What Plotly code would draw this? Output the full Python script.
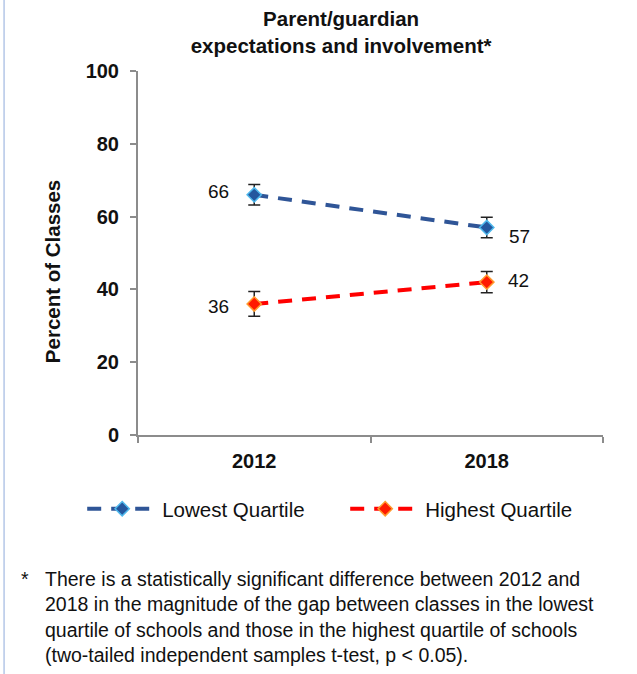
import plotly.graph_objects as go

# Survey years and the share of classes (percent) for each school quartile
years = ["2012", "2018"]
lowest_quartile = [66, 57]
highest_quartile = [36, 42]
lowest_err_plus = [2.8, 2.8]
lowest_err_minus = [2.8, 2.8]
highest_err_plus = [3.4, 2.9]
highest_err_minus = [3.4, 2.9]
y_ticks = [0, 20, 40, 60, 80, 100]

title_text = "Parent/guardian<br>expectations and involvement*"
y_title = "Percent of Classes"
footnote = ("There is a statistically significant difference between 2012 and<br>"
            "2018 in the magnitude of the gap between classes in the lowest<br>"
            "quartile of schools and those in the highest quartile of schools<br>"
            "(two-tailed independent samples t-test, p < 0.05).")

FONT = "Liberation Sans, Arial, sans-serif"
BLUE_LINE = "#2F5597"
RED_LINE = "#FF0000"
AXIS_GREY = "#8C8C8C"

fig = go.Figure()

fig.add_trace(go.Scatter(
    x=years, y=lowest_quartile, name="Lowest Quartile", mode="lines+markers",
    line=dict(color=BLUE_LINE, width=4, dash="14px,10px"),
    marker=dict(symbol="diamond", size=11, color="#24579E",
                line=dict(color="#4FB8EC", width=1.5)),
    error_y=dict(type="data", symmetric=False, array=lowest_err_plus,
                 arrayminus=lowest_err_minus, color="#222222", thickness=1.5, width=6),
))
fig.add_trace(go.Scatter(
    x=years, y=highest_quartile, name="Highest Quartile", mode="lines+markers",
    line=dict(color=RED_LINE, width=4, dash="14px,10px"),
    marker=dict(symbol="diamond", size=11, color="#FF1A00",
                line=dict(color="#FF9A2E", width=1.5)),
    error_y=dict(type="data", symmetric=False, array=highest_err_plus,
                 arrayminus=highest_err_minus, color="#222222", thickness=1.5, width=6),
))

# Value labels beside each point (category index used as the x position)
label_offsets = {
    ("Lowest", 0): (-36, 3), ("Lowest", 1): (33, -9),
    ("Highest", 0): (-36, -3), ("Highest", 1): (32, 2),
}
annotations = []
for key, series in (("Lowest", lowest_quartile), ("Highest", highest_quartile)):
    for i, val in enumerate(series):
        dx, dy = label_offsets[(key, i)]
        annotations.append(dict(
            x=i, y=val, xref="x", yref="y", text=str(val), showarrow=False,
            xshift=dx, yshift=dy, font=dict(family=FONT, size=19, color="#111111"),
        ))

# Vertical y-axis title, sitting a little below the plot's mid-height
annotations.append(dict(
    x=-0.185, y=0.45, xref="paper", yref="paper", text=y_title, showarrow=False,
    textangle=-90, xanchor="center", yanchor="middle",
    font=dict(family=FONT, size=20.5, color="#111111", weight="bold"),
))

# Footnote below the legend
annotations.append(dict(
    x=-0.256, y=-0.360, xref="paper", yref="paper", text="*", showarrow=False,
    xanchor="left", yanchor="top", font=dict(family=FONT, size=19.5, color="#111111"),
))
annotations.append(dict(
    x=-0.204, y=-0.360, xref="paper", yref="paper", text=footnote, showarrow=False,
    xanchor="left", yanchor="top", align="left",
    font=dict(family=FONT, size=19.5, color="#111111"),
))

fig.update_layout(
    width=637, height=674,
    margin=dict(l=138, r=34, t=71, b=239),
    paper_bgcolor="white", plot_bgcolor="white",
    title=dict(text=title_text, x=0.5355, xanchor="center",
               yref="container", y=1 - 26 / 674, yanchor="middle",
               font=dict(family=FONT, size=20.5, color="#111111", weight="bold")),
    xaxis=dict(
        type="category", range=[-0.5, 1.5], tickson="boundaries",
        showline=True, linecolor=AXIS_GREY, linewidth=2,
        ticks="outside", ticklen=6, tickcolor=AXIS_GREY, tickwidth=2,
        showgrid=False, zeroline=False, ticklabelstandoff=7,
        tickfont=dict(family=FONT, size=20, color="#111111", weight="bold"),
    ),
    yaxis=dict(
        range=[0, 100], tickvals=y_ticks,
        showline=True, linecolor=AXIS_GREY, linewidth=2,
        ticks="outside", ticklen=6, tickcolor=AXIS_GREY, tickwidth=2,
        showgrid=False, zeroline=False, ticklabelstandoff=7,
        tickfont=dict(family=FONT, size=20, color="#111111", weight="bold"),
    ),
    showlegend=True,
    legend=dict(
        orientation="h", x=-0.12, xanchor="left", y=-0.203, yanchor="middle",
        font=dict(family=FONT, size=20.5, color="#111111"),
        itemwidth=70, entrywidth=178, entrywidthmode="pixels",
        bgcolor="rgba(0,0,0,0)",
    ),
    annotations=annotations,
    shapes=[dict(type="line", xref="paper", yref="paper",
                 x0=-0.288, x1=-0.288, y0=-0.7, y1=1.2,
                 line=dict(color="#B4C7E7", width=1.5))],
)

fig.write_html("out.html")
